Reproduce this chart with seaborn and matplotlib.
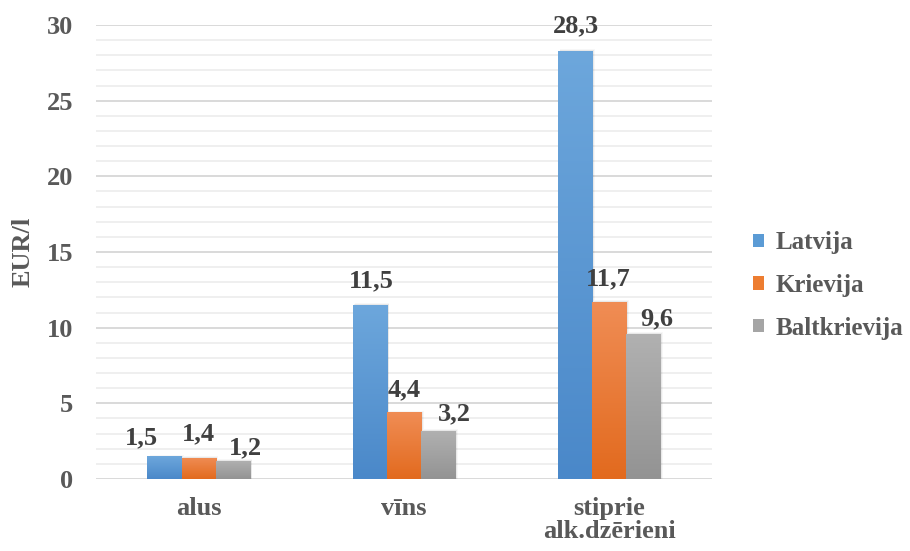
import numpy as np
import pandas as pd
import matplotlib
matplotlib.use("Agg")
import matplotlib.pyplot as plt
from matplotlib.colors import LinearSegmentedColormap, to_rgb
from matplotlib.patches import Patch
from matplotlib.ticker import MultipleLocator
import seaborn as sns

# --- data -------------------------------------------------------------
categories = ["alus", "vīns", "stiprie\nalk.dzērieni"]
countries = ["Latvija", "Krievija", "Baltkrievija"]
latvija = [1.5, 11.5, 28.3]
krievija = [1.4, 4.4, 11.7]
baltkrievija = [1.2, 3.2, 9.6]
y_ticks = [0, 5, 10, 15, 20, 25, 30]
y_label = "EUR/l"

# --- style --------------------------------------------------------------
sns.set_theme(style="white")
plt.rcParams["font.family"] = ["Liberation Serif", "DejaVu Serif"]
plt.rcParams["font.weight"] = "bold"

colors = {"Latvija": "#5B9BD5", "Krievija": "#ED7D31", "Baltkrievija": "#A5A5A5"}
grad_top = {"Latvija": "#6DA7DC", "Krievija": "#F08D55", "Baltkrievija": "#B1B1B1"}
grad_bot = {"Latvija": "#4A88C9", "Krievija": "#E26A1E", "Baltkrievija": "#939393"}
text_grey = "#595959"
label_dark = "#404040"

# label offsets (pixels) from each bar's top centre, per country / category
label_nudge = {
    "Latvija": [(-23, 18), (1.5, 24), (1, 25)],
    "Krievija": [(0, 24), (0, 22.5), (-1, 23)],
    "Baltkrievija": [(13, 13), (16, 17), (13.5, 15)],
}

values = {"Latvija": latvija, "Krievija": krievija, "Baltkrievija": baltkrievija}
df = pd.DataFrame(
    [(c, cat, v) for c in countries for cat, v in zip(categories, values[c])],
    columns=["valsts", "kategorija", "vertiba"],
)

fig = plt.figure(figsize=(9.10, 5.51), dpi=100)
ax = fig.add_axes([96 / 910, 1 - 479 / 551, 616 / 910, 454 / 551])

sns.barplot(
    data=df, x="kategorija", y="vertiba", hue="valsts",
    order=categories, hue_order=countries,
    palette=colors, width=0.5, gap=0, dodge=True,
    legend=False, ax=ax, saturation=1, errorbar=None, linewidth=0,
)

ax.set_xlim(-0.5, 2.5)
ax.set_ylim(0, 30)

# gradient fill per bar (light at top, dark at base)
grad = np.linspace(0, 1, 256).reshape(-1, 1)
for country, cont in zip(countries, ax.containers):
    cmap = LinearSegmentedColormap.from_list(
        country, [to_rgb(grad_bot[country]), to_rgb(grad_top[country])])
    for i, bar in enumerate(cont):
        x0, w, h = bar.get_x(), bar.get_width(), bar.get_height()
        bar.set_linewidth(0)
        bar.set_edgecolor("none")
        # soft shadow
        for k, a in zip(range(1, 4), [0.10, 0.06, 0.03]):
            ax.add_patch(plt.Rectangle((x0 + 0.004 * k, 0), w, h + 0.05 * (k - 1),
                                       color="black", alpha=a, lw=0, zorder=1.5))
        im = ax.imshow(grad, extent=[x0, x0 + w, 0, h], origin="lower",
                       aspect="auto", cmap=cmap, zorder=2, interpolation="bilinear")
        im.set_clip_path(bar)
        bar.set_zorder(2)
        dx, dy = label_nudge[country][i]
        v = values[country][i]
        ax.annotate(f"{v:.1f}".replace(".", ","),
                    xy=(x0 + w / 2, h), xytext=(dx, dy),
                    textcoords="offset pixels", ha="center", va="center",
                    fontsize=19, fontweight="bold", color=label_dark, zorder=5)

ax.set_xlim(-0.5, 2.5)
ax.set_ylim(0, 30)
ax.set_aspect("auto")

# grid
ax.set_axisbelow(True)
ax.set_yticks(y_ticks)
ax.yaxis.set_minor_locator(MultipleLocator(1))
ax.grid(which="major", axis="y", color="#D9D9D9", linewidth=1.4)
ax.grid(which="minor", axis="y", color="#EFEFEF", linewidth=1.4)
ax.grid(which="major", axis="x", visible=False)
for s in ax.spines.values():
    s.set_visible(False)

ax.tick_params(axis="both", which="both", length=0)
ax.tick_params(axis="y", pad=16.5, labelsize=19, labelcolor=text_grey)
ax.tick_params(axis="x", pad=13, labelsize=19, labelcolor=text_grey)
for t in ax.get_xticklabels():
    t.set_fontweight("bold")
    t.set_linespacing(1.0)
for t in ax.get_yticklabels():
    t.set_fontweight("bold")

ax.set_xlabel("")
ax.set_ylabel(y_label, fontsize=19, fontweight="bold", color=text_grey)
ax.yaxis.label.set_va("center")
ax.yaxis.set_label_coords((23.5 - 96) / 616, (479 - 252) / 454)

handles = [Patch(facecolor=colors[c], edgecolor="none") for c in countries]
leg = fig.legend(
    handles, countries, loc="center left",
    bbox_to_anchor=(753 / 910, 1 - 285.5 / 551),
    frameon=False, borderpad=0, borderaxespad=0,
    fontsize=18, handlelength=0.45, handleheight=0.45,
    handletextpad=0.45, labelspacing=0.78,
)
for t in leg.get_texts():
    t.set_color(text_grey)
    t.set_fontweight("bold")

fig.savefig("out.png", dpi=100)
